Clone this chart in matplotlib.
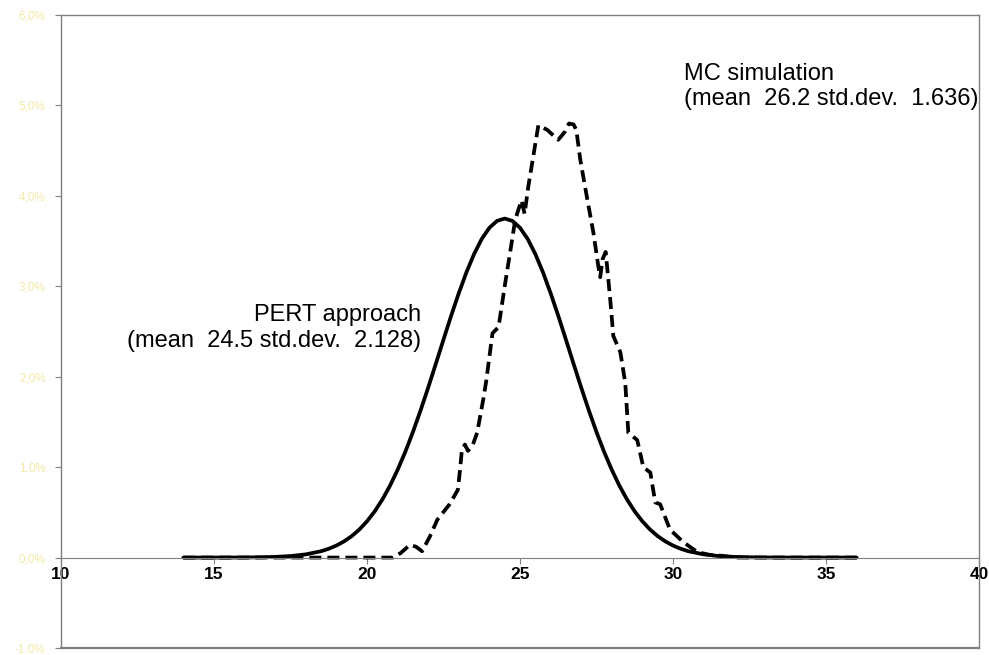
import matplotlib
matplotlib.use("Agg")
import matplotlib.pyplot as plt

plt.rcParams['font.family'] = ['Liberation Sans', 'DejaVu Sans']

# PERT approach (normal curve, values in %)
pert_x = [14.0, 14.5, 15.0, 15.5, 16.0, 16.5, 17.0, 17.5, 18.0, 18.5,
          18.75, 19.0, 19.25, 19.5, 19.75, 20.0, 20.25, 20.5, 20.75, 21.0,
          21.25, 21.5, 21.75, 22.0, 22.25, 22.5, 22.75, 23.0, 23.25, 23.5,
          23.75, 24.0, 24.25, 24.5, 24.75, 25.0, 25.25, 25.5, 25.75, 26.0,
          26.25, 26.5, 26.75, 27.0, 27.25, 27.5, 27.75, 28.0, 28.25, 28.5,
          28.75, 29.0, 29.25, 29.5, 29.75, 30.0, 30.25, 30.5, 31.0, 31.5,
          32.0, 32.5, 33.0, 33.5, 34.0, 34.5, 35.0, 35.5, 36.0]
pert_y = [0.0, 0.0001, 0.0002, 0.0005, 0.0013, 0.0032, 0.0075, 0.0168, 0.0353, 0.0704,
          0.0975, 0.133, 0.179, 0.237, 0.310, 0.401, 0.510, 0.641, 0.794, 0.970,
          1.168, 1.388, 1.627, 1.880, 2.144, 2.411, 2.674, 2.924, 3.155, 3.357,
          3.524, 3.647, 3.723, 3.749, 3.723, 3.647, 3.524, 3.357, 3.155, 2.924,
          2.674, 2.411, 2.144, 1.880, 1.627, 1.388, 1.168, 0.970, 0.794, 0.641,
          0.510, 0.401, 0.310, 0.237, 0.179, 0.133, 0.0975, 0.0704, 0.0353, 0.0168,
          0.0075, 0.0032, 0.0013, 0.0005, 0.0002, 0.0001, 0.0, 0.0, 0.0]

# MC simulation (values in %)
mc_x = [14.0, 15.0, 16.0, 17.0, 18.0, 19.0, 20.0, 20.85, 21.1, 21.4,
        21.6, 21.8, 22.05, 22.3, 22.7, 22.97, 23.04, 23.1, 23.2, 23.3,
        23.45, 23.6, 23.8, 23.9, 24.1, 24.3, 24.5, 24.74, 24.84, 24.95,
        25.05, 25.15, 25.27, 25.43, 25.6, 25.89, 26.05, 26.25, 26.47, 26.6,
        26.75, 26.84, 26.97, 27.2, 27.4, 27.56, 27.62, 27.7, 27.8, 27.95,
        28.05, 28.28, 28.44, 28.54, 28.83, 29.03, 29.26, 29.42, 29.58, 29.9,
        30.34, 30.8, 31.2, 31.6, 32.0, 33.0, 34.0, 35.0, 36.0]
mc_y = [0.0, 0.0, 0.0, 0.0, 0.0, 0.0, 0.0, 0.0, 0.05, 0.14,
        0.12, 0.07, 0.23, 0.42, 0.59, 0.75, 0.97, 1.19, 1.25, 1.18,
        1.24, 1.38, 1.75, 1.96, 2.48, 2.55, 3.0, 3.51, 3.73, 3.85,
        3.95, 3.80, 4.1, 4.43, 4.78, 4.73, 4.68, 4.62, 4.71, 4.8,
        4.79, 4.73, 4.4, 3.96, 3.59, 3.22, 3.1, 3.3, 3.38, 2.85,
        2.45, 2.27, 1.93, 1.38, 1.3, 1.0, 0.94, 0.61, 0.59, 0.31,
        0.17, 0.06, 0.03, 0.02, 0.0, 0.0, 0.0, 0.0, 0.0]

x_ticks = [10, 15, 20, 25, 30, 35, 40]
y_ticks = [-1, 0, 1, 2, 3, 4, 5, 6]
y_labels = ['-1,0%', '0,0%', '1,0%', '2,0%', '3,0%', '4,0%', '5,0%', '6,0%']

fig = plt.figure(figsize=(9.89, 6.55), dpi=100)
ax = fig.add_axes([61 / 989, 7 / 655, 918 / 989, 633 / 655])

ax.plot(pert_x, pert_y, color='black', lw=2.7, solid_capstyle='round')
ax.plot(mc_x, mc_y, color='black', lw=2.7, ls=(0, (3.2, 1.6)))

ax.set_xlim(10, 40)
ax.set_ylim(-1, 6)

# frame
for s in ['left', 'top', 'right']:
    ax.spines[s].set_color('#808080')
    ax.spines[s].set_linewidth(1.0)
ax.spines['bottom'].set_position(('data', 0))
ax.spines['bottom'].set_color('#808080')
ax.axhline(-1, color='#808080', lw=1.6, clip_on=False)

ax.set_xticks(x_ticks)
ax.set_xticklabels([str(t) for t in x_ticks], fontsize=12.5, fontweight='bold')
ax.tick_params(axis='x', direction='out', length=4, color='#808080', pad=3)
ax.set_yticks(y_ticks)
ax.set_yticklabels(y_labels, fontsize=8.5, color='#f2eaa6')
ax.tick_params(axis='y', direction='out', length=4, color='#808080', pad=7)

ax.text(21.78, 2.54, 'PERT approach\n(mean  24.5 std.dev.  2.128)', ha='right',
        va='center', multialignment='right', fontsize=17, linespacing=1.2)
ax.text(30.35, 5.21, 'MC simulation\n(mean  26.2 std.dev.  1.636)', ha='left',
        va='center', multialignment='left', fontsize=17, linespacing=1.2)

fig.savefig('out.png', dpi=100)
